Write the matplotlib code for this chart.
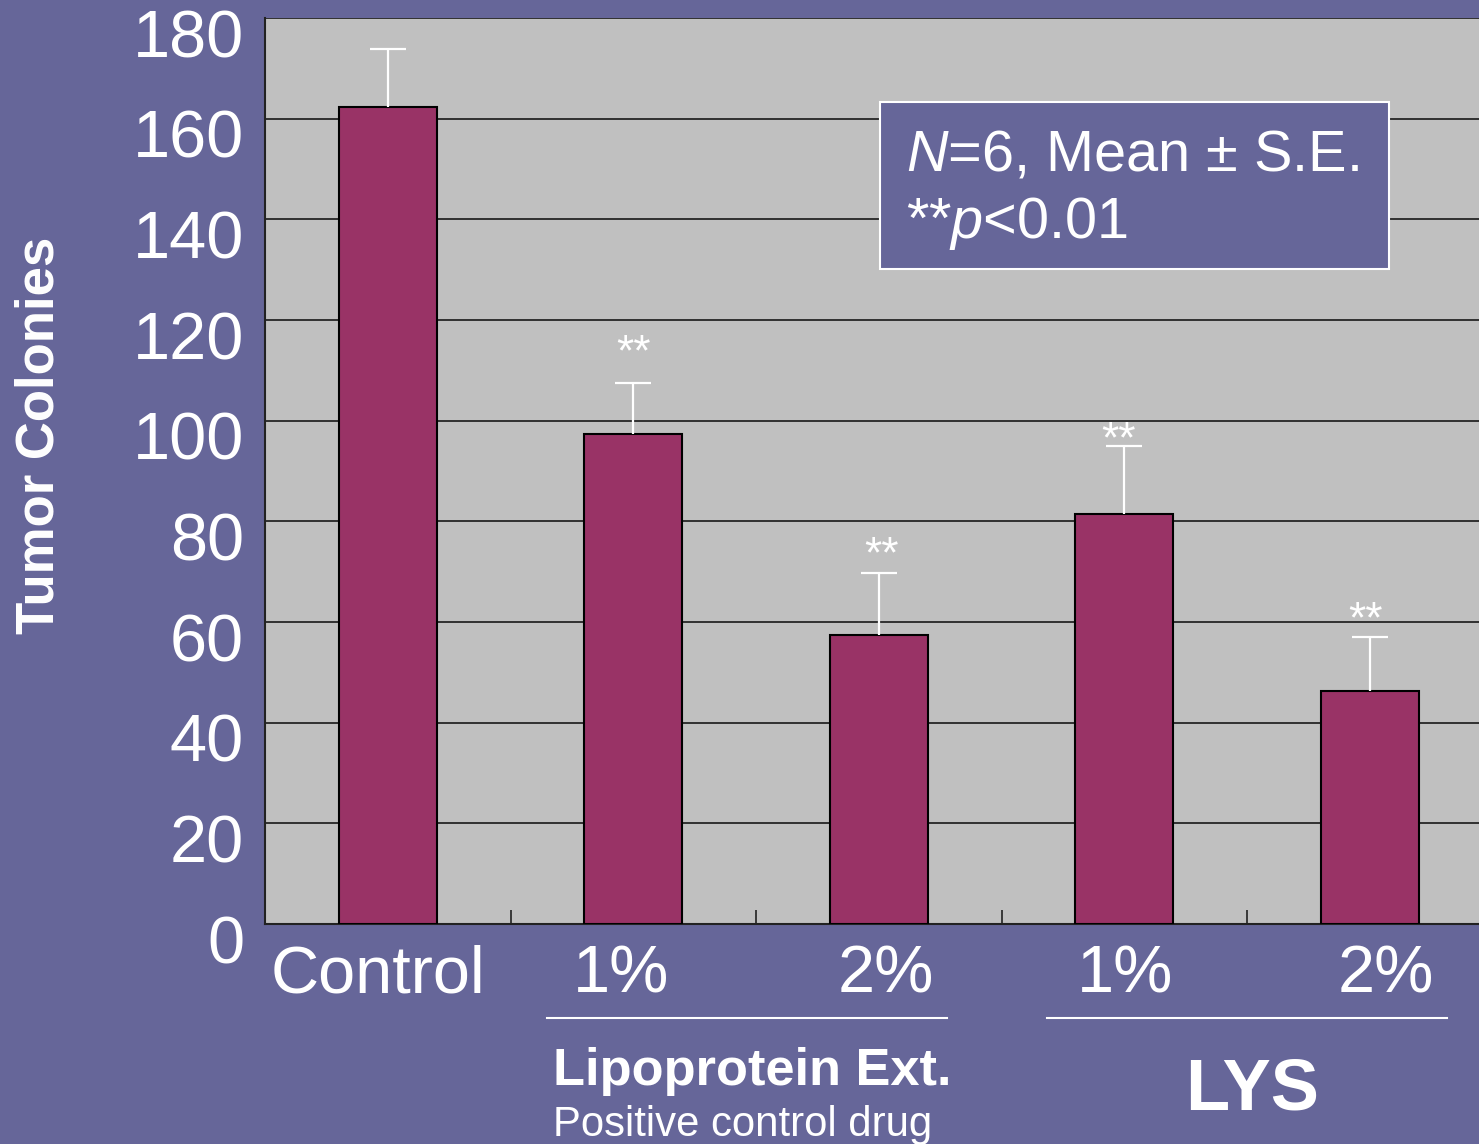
import matplotlib
matplotlib.use("Agg")
import matplotlib.pyplot as plt
import matplotlib.transforms as mtransforms
from matplotlib.patches import Rectangle
from matplotlib.lines import Line2D

plt.rcParams['font.family'] = ['Liberation Sans', 'DejaVu Sans']
plt.rcParams['mathtext.fontset'] = 'custom'
plt.rcParams['mathtext.rm'] = 'Liberation Sans'
plt.rcParams['mathtext.it'] = 'Liberation Sans:italic'

# data
labels = ["Control", "1%", "2%", "1%", "2%"]
means = [162.3, 97.4, 57.4, 81.5, 46.3]
errors = [11.6, 10.1, 12.3, 13.5, 10.7]
signif = ["", "**", "**", "**", "**"]
yticks = [0, 20, 40, 60, 80, 100, 120, 140, 160, 180]

bg = "#666699"
W, H = 1479, 1144

fig = plt.figure(figsize=(W / 100, H / 100), dpi=100, facecolor=bg)
ax = fig.add_axes([265 / W, 1 - 924 / H, 1227.5 / W, 906 / H])
ax.set_facecolor("#C0C0C0")

x = list(range(len(means)))
ax.bar(x, means, width=0.4, color="#993366", edgecolor="black", linewidth=1.5, zorder=3)
eb = ax.errorbar(x, means, yerr=[[0] * len(errors), errors], fmt="none", ecolor="white",
                 elinewidth=1.6, capsize=13, capthick=1.6, zorder=4)
eb[1][0].set_visible(False)  # no cap at the bar top

# stars sit a bit unevenly above the caps in the original
star_dy = [0, 6, -2, -11, -3]
star_dx = [0, 0, 2, -4, -3]
for xi, m, e, s, dy, dx in zip(x, means, errors, signif, star_dy, star_dx):
    if s:
        ax.annotate(s, (xi, m + e), xytext=(dx, dy), textcoords="offset points",
                    ha="center", va="bottom", color="white", fontsize=32)

ax.set_xlim(-0.5, 4.5)
ax.set_ylim(0, 180)
ax.set_yticks(yticks)
ax.yaxis.grid(True, color="#262626", linewidth=1.3, zorder=0)
ax.set_axisbelow(True)
ax.tick_params(axis="y", length=0, labelsize=48, labelcolor="white", pad=15)
offset = mtransforms.ScaledTranslation(0, -15 / 100, fig.dpi_scale_trans)
for lab in ax.get_yticklabels():
    lab.set_transform(lab.get_transform() + offset)

ax.set_xticks(x)
ax.set_xticklabels(labels)
ax.tick_params(axis="x", which="major", length=0, labelsize=48, labelcolor="white", pad=15)
# the category labels are not quite centred under the bars in the original
label_dx = [-10, -12, 7, 1, 16]
for lab, dx in zip(ax.get_xticklabels(), label_dx):
    lab.set_transform(lab.get_transform() +
                      mtransforms.ScaledTranslation(dx / 100, 0, fig.dpi_scale_trans))
ax.set_xticks([0.5, 1.5, 2.5, 3.5], minor=True)
ax.tick_params(axis="x", which="minor", direction="in", length=10, width=1.2, color="#222222")

for side in ["top", "right"]:
    ax.spines[side].set_visible(False)
ax.spines["left"].set_color("#222222")
ax.spines["left"].set_linewidth(1.5)
ax.spines["bottom"].set_color("#222222")
ax.spines["bottom"].set_linewidth(1.5)

fig.text(40 / W, 1 - 435 / H, "Tumor Colonies", rotation=90, ha="center", va="center",
         color="white", fontsize=38, fontweight="bold")

# group underlines and group labels
for x0, x1 in [(547, 947), (1047, 1447)]:
    fig.add_artist(Line2D([x0 / W, x1 / W], [1 - 1018 / H, 1 - 1018 / H],
                          color="white", linewidth=1.5))
fig.text(553 / W, 1 - 1072 / H, "Lipoprotein Ext.", ha="left", va="center",
         color="white", fontsize=37.7, fontweight="bold")
fig.text(553 / W, 1 - 1125 / H, "Positive control drug", ha="left", va="center",
         color="white", fontsize=30.2)
fig.text(1252 / W, 1 - 1090 / H, "LYS", ha="center", va="center",
         color="white", fontsize=52, fontweight="bold")

# annotation box
fig.add_artist(Rectangle((880 / W, 1 - 269 / H), 509 / W, 167 / H, transform=fig.transFigure,
                         facecolor=bg, edgecolor="white", linewidth=1.5, zorder=5))
fig.text(906 / W, 1 - 155 / H, r"$N$=6, Mean ± S.E.", ha="left", va="center",
         color="white", fontsize=41.5, zorder=6)
fig.text(906 / W, 1 - 224 / H, r"**$p$<0.01", ha="left", va="center",
         color="white", fontsize=41.5, zorder=6)

fig.savefig("out.png", dpi=100, facecolor=bg)
